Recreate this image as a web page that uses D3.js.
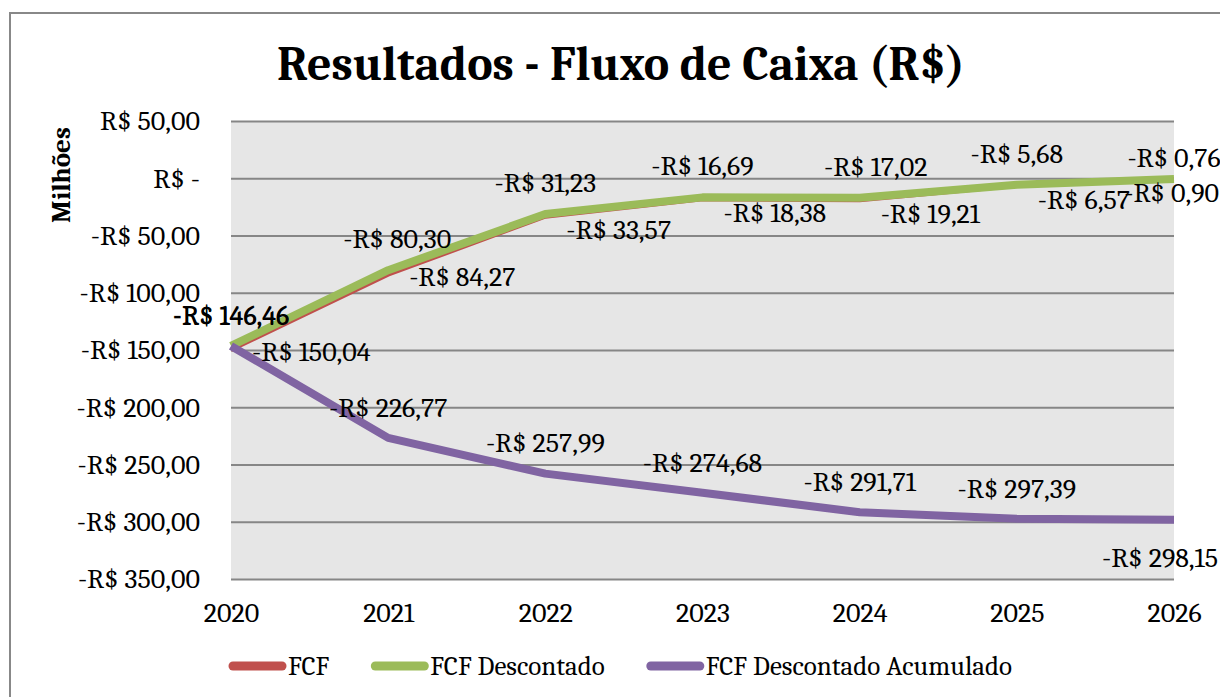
<!DOCTYPE html>
<html>
<head>
<meta charset="utf-8">
<script src="https://cdn.jsdelivr.net/npm/d3@7"></script>
<style>
  body { margin: 0; background: #fff; }
  svg { display: block; font-family: Cambria, "Liberation Serif", serif; }
</style>
</head>
<body>
<svg id="chart" width="1220" height="697"></svg>
<script>
// values (R$ milhões)
const years = ['2020', '2021', '2022', '2023', '2024', '2025', '2026'];
const fcf = [-150.04, -84.27, -33.57, -18.38, -19.21, -6.57, -0.90];
const fcfDescontado = [-146.46, -80.30, -31.23, -16.69, -17.02, -5.68, -0.76];
const fcfAcumulado = [-146.46, -226.77, -257.99, -274.68, -291.71, -297.39, -298.15];
const yTicks = [50, 0, -50, -100, -150, -200, -250, -300, -350];
const seriesNames = ['FCF', 'FCF Descontado', 'FCF Descontado Acumulado'];
const seriesColors = ['#c0504d', '#9bbb59', '#8064a2'];

const width = 1220, height = 697;
const plot = {left: 231, right: 1174, top: 121, bottom: 579};
const labelSize = '28px';

const svg = d3.select('#chart');

const locale = d3.formatLocale({decimal: ',', thousands: '.', grouping: [3], currency: ['R$ ', '']});
const num = locale.format(',.2f');
const fmt = v => v === 0 ? 'R$ -' : (v < 0 ? '-' : '') + 'R$ ' + num(Math.abs(v));

const x = d3.scalePoint().domain(years).range([plot.left, plot.right]);
const y = d3.scaleLinear().domain([-350, 50]).range([plot.bottom, plot.top]);

// outer chart border
svg.append('rect')
  .attr('x', 10).attr('y', 13)
  .attr('width', width + 20).attr('height', height + 20)
  .attr('fill', '#fff').attr('stroke', '#888').attr('stroke-width', 2);

// title
svg.append('text')
  .attr('x', 621).attr('y', 80)
  .attr('text-anchor', 'middle')
  .style('font-size', '48px').style('font-weight', 'bold')
  .text('Resultados - Fluxo de Caixa (R$)');

// plot background
svg.append('rect')
  .attr('x', plot.left).attr('y', plot.top)
  .attr('width', plot.right - plot.left).attr('height', plot.bottom - plot.top)
  .attr('fill', '#e6e6e6');

// gridlines
svg.append('g')
  .attr('transform', `translate(${plot.left},0)`)
  .call(d3.axisLeft(y).tickValues(yTicks).tickSize(-(plot.right - plot.left)).tickFormat(''))
  .call(g => g.select('.domain').remove())
  .call(g => g.selectAll('line').attr('stroke', '#868686').attr('stroke-width', 2));

// y axis labels
svg.append('g')
  .attr('transform', `translate(${plot.left},0)`)
  .call(d3.axisLeft(y).tickValues(yTicks).tickSize(0).tickPadding(31).tickFormat(fmt))
  .attr('font-family', null).attr('font-size', null)
  .call(g => g.select('.domain').remove())
  .call(g => g.selectAll('text').attr('fill', '#000').style('font-size', labelSize));

// x axis labels
svg.append('g')
  .attr('transform', `translate(0,${plot.bottom})`)
  .call(d3.axisBottom(x).tickSize(0).tickPadding(23))
  .attr('font-family', null).attr('font-size', null)
  .call(g => g.select('.domain').remove())
  .call(g => g.selectAll('text').attr('fill', '#000').style('font-size', labelSize));

// y axis title
svg.append('text')
  .attr('transform', 'translate(70,175) rotate(-90)')
  .attr('text-anchor', 'middle')
  .style('font-size', '27px').style('font-weight', 'bold')
  .text('Milhões');

const series = [fcf, fcfDescontado, fcfAcumulado];
const widths = [4, 8, 8];

const line = d3.line().x((d, i) => x(years[i])).y(d => y(d));

series.forEach((s, k) => {
  svg.append('path')
    .datum(s)
    .attr('d', line)
    .attr('fill', 'none')
    .attr('stroke', seriesColors[k])
    .attr('stroke-width', widths[k])
    .attr('stroke-linejoin', 'round');
});

// data label placement per series
const place = [
  i => ({anchor: i === 6 ? 'end' : 'start', dx: i === 6 ? 45 : 21, dy: i < 2 ? 1 : 13}),
  i => ({anchor: 'middle', dx: i === 1 ? 9 : (i === 4 ? 16 : 0), dy: i === 6 ? -22 : -32}),
  i => i === 6 ? {anchor: 'middle', dx: -14, dy: 38} : {anchor: 'middle', dx: 0, dy: -31}
];

series.forEach((s, k) => {
  svg.append('g')
    .selectAll('text')
    .data(s)
    .join('text')
    .each(function(d, i) {
      const p = place[k](i);
      d3.select(this)
        .attr('x', x(years[i]) + p.dx)
        .attr('y', y(d) + p.dy)
        .attr('text-anchor', p.anchor)
        .attr('dy', '0.35em');
    })
    .style('font-size', labelSize)
    .text(d => fmt(d));
});

// legend
const legend = svg.append('g').attr('transform', 'translate(229,666)');
let lx = 0;
seriesNames.forEach((name, k) => {
  legend.append('line')
    .attr('x1', lx + 4).attr('x2', lx + 53)
    .attr('y1', 0).attr('y2', 0)
    .attr('stroke', seriesColors[k]).attr('stroke-width', 9)
    .attr('stroke-linecap', 'round');
  const t = legend.append('text')
    .attr('x', lx + 59).attr('y', 0).attr('dy', '0.35em')
    .style('font-size', '27px')
    .text(name);
  lx += 59 + t.node().getComputedTextLength() + 42;
});
</script>
</body>
</html>
